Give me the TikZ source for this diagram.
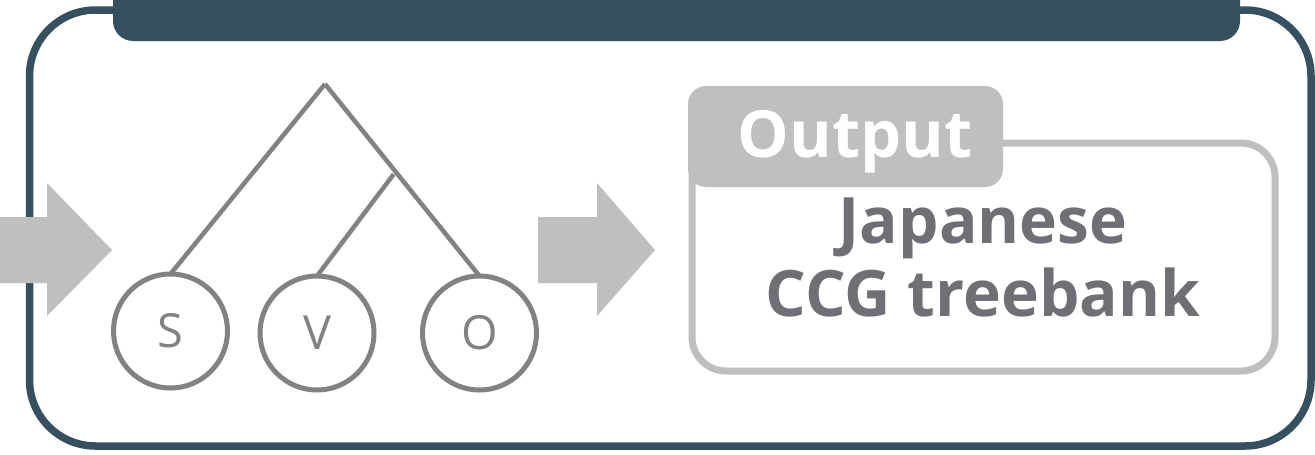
\documentclass[tikz,border=0pt]{standalone}
\usepackage{fontspec}
\setmainfont{Open Sans}
\usetikzlibrary{calc}
\definecolor{darkslate}{HTML}{36505F}
\definecolor{arrowgray}{HTML}{BFBFBF}
\definecolor{treegray}{HTML}{828282}
\definecolor{textgray}{HTML}{6F6F76}
\begin{document}
\begin{tikzpicture}[x=1pt,y=-1pt,
  frame/.style={draw=darkslate, line width=7.5pt, rounded corners=66pt},
  topbar/.style={fill=darkslate, rounded corners=20pt},
  blockarrow/.style={fill=arrowgray},
  treeline/.style={draw=treegray, line width=4.5pt},
  leaf/.style={circle, draw=treegray, line width=5pt, minimum size=114pt, inner sep=0pt, outer sep=0pt, text=treegray, font=\fontsize{47}{47}\selectfont},
  outbox/.style={draw=arrowgray, line width=7pt, rounded corners=34pt},
  tab/.style={fill=arrowgray, rounded corners=18pt},
  tabtext/.style={anchor=base, text=white, font=\fontsize{65}{65}\selectfont\bfseries, inner sep=0pt},
  bigtext/.style={anchor=base, text=textgray, font=\fontsize{64}{64}\selectfont\bfseries, inner sep=0pt}]
\useasboundingbox (0,0) rectangle (1315,455);
\fill[white] (0,0) rectangle (1315,455);
% outer frame and top bar
\draw[frame] (29.5,10) rectangle (1311,446);
\fill[topbar] (113,-40) rectangle (1240,41);
% left block arrow
\fill[blockarrow] (0,217) -- (47,217) -- (47,183) -- (112,250) -- (47,316) -- (47,283) -- (0,283) -- cycle;
% tree
\node[leaf] (S) at (170.5,331) {S};
\node[leaf] (V) at (317,333) {V};
\node[leaf] (O) at (479.5,333) {O};
\coordinate (apex) at (325,84);
\coordinate (branch) at ($(apex)!0.47!(O.north)+(-4,0)$);
\draw[treeline] (apex) -- (S.north);
\draw[treeline] (apex) -- (O.north);
\draw[treeline] (branch) -- (V.north);
% right block arrow
\fill[blockarrow] (538,217) -- (597,217) -- (597,183) -- (655,250) -- (597,316) -- (597,283) -- (538,283) -- cycle;
% output box
\draw[outbox] (692,143) rectangle (1275,371);
\fill[tab] (688,86) rectangle (1003,187);
\node[tabtext] (outlabel) at (855,157) {Output};
\node[bigtext] (line1) at (983,243) {Japanese};
\node[bigtext] (line2) at (983,316) {CCG treebank};
\end{tikzpicture}
\end{document}
